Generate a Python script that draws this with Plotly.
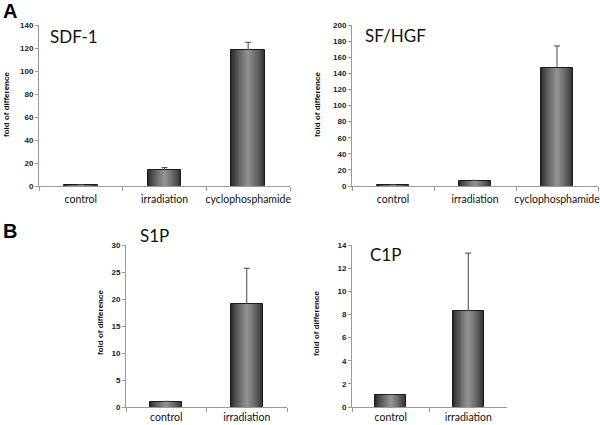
import plotly.graph_objects as go

# ---------------- data ----------------
cats_a = ["control", "irradiation", "cyclophosphamide"]
cats_b = ["control", "irradiation"]

sdf1_vals = [0.8, 13.5, 118]
sdf1_err = [0.4, 2.5, 7]

sfhgf_vals = [1.0, 6.0, 146]
sfhgf_err = [0.6, 1.0, 28]

s1p_vals = [1.0, 19.0]
s1p_err = [0.05, 6.7]

c1p_vals = [1.0, 8.3]
c1p_err = [0.05, 5.0]

panel_titles = ["SDF-1", "SF/HGF", "S1P", "C1P"]
y_ranges = [(0, 140, 20), (0, 200, 20), (0, 30, 5), (0, 14, 2)]

# ---------------- layout geometry ----------------
W, H = 600, 425
def xd(a, b):
    return [a / W, b / W]
def yd(top, bottom):
    return [1 - bottom / H, 1 - top / H]

panels = [
    dict(cats=cats_a, vals=sdf1_vals, err=sdf1_err, xdom=xd(39, 290), ydom=yd(25, 186), so=3),
    dict(cats=cats_a, vals=sfhgf_vals, err=sfhgf_err, xdom=xd(352, 598), ydom=yd(25, 186), so=3),
    dict(cats=cats_b, vals=s1p_vals, err=s1p_err, xdom=xd(126, 287), ydom=yd(245, 407), so=0),
    dict(cats=cats_b, vals=c1p_vals, err=c1p_err, xdom=xd(352, 507), ydom=yd(245, 407), so=0),
]

fig = go.Figure()

# gradient layers (cylinder look): dark edges, lighter centre
n_layers = 16
dark = (45, 45, 45)
light = (145, 145, 145)
def col(t):
    return "rgb(%d,%d,%d)" % tuple(int(dark[i] + (light[i] - dark[i]) * t) for i in range(3))

axis_font = dict(family="Liberation Sans, Arial", size=8, color="#222", weight="bold")
cat_font = dict(family="Lato, Liberation Sans", size=10.5, color="#111")

for i, p in enumerate(panels):
    xa = "x" if i == 0 else "x%d" % (i + 1)
    ya = "y" if i == 0 else "y%d" % (i + 1)
    for k in range(n_layers):
        w = 0.4 * (1 - k / n_layers)
        t = (k / (n_layers - 1)) ** 0.8
        kwargs = {}
        if k == 0:
            kwargs["error_y"] = dict(type="data", symmetric=False, array=p["err"],
                                     arrayminus=[0] * len(p["err"]),
                                     color="#444", thickness=1, width=3)
            line = dict(color="#1a1a1a", width=1)
        else:
            line = dict(width=0)
        fig.add_trace(go.Bar(x=p["cats"], y=p["vals"], width=w, xaxis=xa, yaxis=ya,
                             marker=dict(color=col(t), line=line),
                             showlegend=False, hoverinfo="skip", **kwargs))

    lo, hi, step = y_ranges[i]
    xkey = "xaxis" if i == 0 else "xaxis%d" % (i + 1)
    ykey = "yaxis" if i == 0 else "yaxis%d" % (i + 1)
    fig.update_layout(**{
        xkey: dict(domain=p["xdom"], anchor=ya, type="category",
                   range=[-0.5, len(p["cats"]) - 0.5], tickangle=0, automargin=False,
                   showline=True, linecolor="#999", linewidth=1,
                   ticks="outside", tickson="boundaries", ticklen=4, tickcolor="#999",
                   ticklabelstandoff=p["so"],
                   showgrid=False, tickfont=cat_font, fixedrange=True),
        ykey: dict(domain=p["ydom"], anchor=xa, range=[lo, hi], dtick=step, tick0=0,
                   automargin=False,
                   showline=True, linecolor="#999", linewidth=1,
                   ticks="outside", ticklen=3, tickcolor="#999",
                   showgrid=False, zeroline=False, tickfont=axis_font, fixedrange=True),
    })

# ---------------- annotations ----------------
ann = []
title_pos = [(48, 37), (363, 35), (138, 235), (368, 254)]
for (px, py), t in zip(title_pos, panel_titles):
    ann.append(dict(x=px / W, y=1 - py / H, xref="paper", yref="paper", text=t,
                    showarrow=False, xanchor="left", yanchor="middle",
                    font=dict(family="Lato, Liberation Sans", size=17, color="#111")))

ytitle_pos = [(6, 105), (317, 105), (100, 323), (316, 323)]
for px, py in ytitle_pos:
    ann.append(dict(x=px / W, y=1 - py / H, xref="paper", yref="paper",
                    text="<b>fold of difference</b>", textangle=-90, showarrow=False,
                    xanchor="center", yanchor="middle",
                    font=dict(family="Liberation Sans, Arial", size=8, color="#111")))

for lbl, py in [("A", 11), ("B", 231)]:
    ann.append(dict(x=1 / W, y=1 - py / H, xref="paper", yref="paper",
                    text="<b>%s</b>" % lbl, showarrow=False, xanchor="left", yanchor="middle",
                    font=dict(family="Liberation Sans, Arial", size=20, color="#000")))

fig.update_layout(width=W, height=H, margin=dict(l=0, r=0, t=0, b=0),
                  paper_bgcolor="white", plot_bgcolor="white",
                  barmode="overlay", bargap=0, annotations=ann, showlegend=False)

fig.write_html("out.html", config={"displayModeBar": False},
               post_script="document.body.style.margin='0';document.body.style.overflow='hidden';")
